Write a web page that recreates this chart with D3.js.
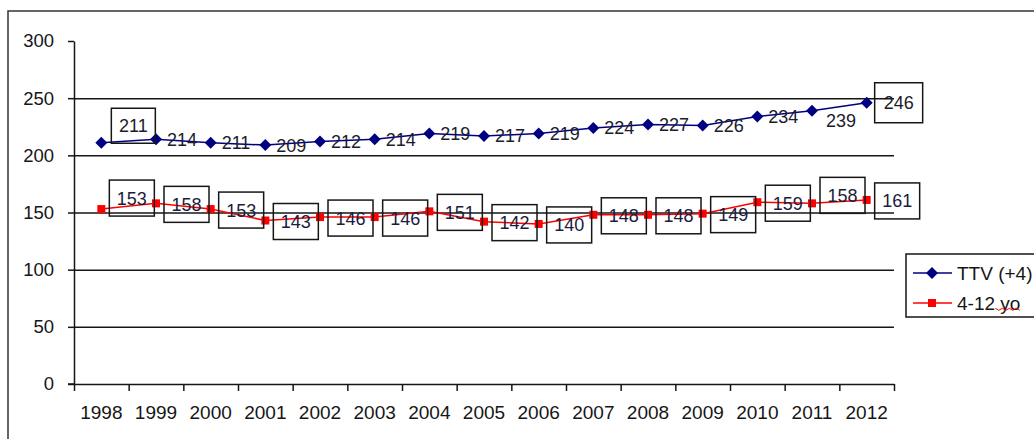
<!DOCTYPE html>
<html>
<head>
<meta charset="utf-8">
<script src="https://cdn.jsdelivr.net/npm/d3@7"></script>
<style>
    html, body { margin: 0; padding: 0; background: #fff; }
    svg { display: block; font-family: "Liberation Sans", Arial, sans-serif; }
</style>
</head>
<body>
<svg id="chart" width="1034" height="439"></svg>
<script>
const years = ["1998", "1999", "2000", "2001", "2002", "2003", "2004", "2005",
               "2006", "2007", "2008", "2009", "2010", "2011", "2012"];
const ttv = [211, 214, 211, 209, 212, 214, 219, 217, 219, 224, 227, 226, 234, 239, 246];
const kids = [153, 158, 153, 143, 146, 146, 151, 142, 140, 148, 148, 149, 159, 158, 161];
const yTicks = [0, 50, 100, 150, 200, 250, 300];
const seriesNames = ["TTV (+4)", "4-12 yo"];

const svg = d3.select("#chart");
const plotL = 74, plotR = 894, plotT = 41, plotB = 384;
const blue = "#000080", red = "#ff0000", ink = "#161616";
const fontFam = "Liberation Sans, Arial, sans-serif";

const x = d3.scaleBand().domain(years).range([plotL, plotR]);
const xEdge = d3.scaleLinear().domain([0, years.length]).range([plotL, plotR]);
const y = d3.scaleLinear().domain([0, 300]).range([plotB, plotT]);
const px = (d, i) => x(years[i]) + x.bandwidth() / 2;

// --- outer frame ---
svg.append("rect")
    .attr("x", 8).attr("y", 11)
    .attr("width", 1100).attr("height", 500)
    .attr("fill", "none")
    .attr("stroke", "#333")
    .attr("stroke-width", 1.5);

// --- gridlines ---
svg.append("g")
    .attr("transform", `translate(${plotL},0)`)
    .call(d3.axisLeft(y).tickValues(yTicks.filter(v => v > 0 && v < 300))
        .tickSize(-(plotR - plotL)).tickFormat(""))
    .call(g => g.select(".domain").remove())
    .call(g => g.selectAll("line").attr("stroke", ink).attr("stroke-width", 1.5));

// --- y axis ---
svg.append("g")
    .attr("transform", `translate(${plotL},0)`)
    .call(d3.axisLeft(y).tickValues(yTicks).tickSize(6).tickSizeOuter(0).tickPadding(14))
    .call(g => g.select(".domain").attr("stroke", ink).attr("stroke-width", 1.5))
    .call(g => g.selectAll("line").attr("stroke", ink).attr("stroke-width", 1.5))
    .call(g => g.selectAll("text").attr("fill", ink).attr("font-size", 18.5)
        .attr("font-family", fontFam));

// --- x axis ---
svg.append("g")
    .attr("transform", `translate(0,${plotB})`)
    .call(d3.axisBottom(xEdge).ticks(years.length).tickSize(7).tickSizeOuter(0).tickFormat(""))
    .call(g => g.select(".domain").attr("stroke", ink).attr("stroke-width", 1.5))
    .call(g => g.selectAll("line").attr("stroke", ink).attr("stroke-width", 1.5));
svg.append("line")
    .attr("x1", plotL - 6).attr("x2", plotL)
    .attr("y1", plotB).attr("y2", plotB)
    .attr("stroke", ink).attr("stroke-width", 1.5);

svg.append("g")
    .attr("transform", `translate(0,${plotB})`)
    .call(d3.axisBottom(x).tickSize(0).tickPadding(22))
    .call(g => g.select(".domain").remove())
    .call(g => g.selectAll("text").attr("fill", ink).attr("font-size", 19)
        .attr("font-family", fontFam));

// --- lines ---
const line = d3.line().x(px).y(d => y(d));

svg.append("path").datum(kids)
    .attr("fill", "none").attr("stroke", red).attr("stroke-width", 1.5)
    .attr("d", line);
svg.append("path").datum(ttv)
    .attr("fill", "none").attr("stroke", blue).attr("stroke-width", 1.5)
    .attr("d", line);

// --- markers ---
const diamond = d3.symbol().type(d3.symbolSquare).size(72);
const square = d3.symbol().type(d3.symbolSquare).size(64);

svg.append("g").selectAll("path").data(ttv).join("path")
    .attr("d", diamond)
    .attr("transform", (d, i) => `translate(${px(d, i)},${y(d)}) rotate(45)`)
    .attr("fill", blue);

svg.append("g").selectAll("path").data(kids).join("path")
    .attr("d", square)
    .attr("transform", (d, i) => `translate(${px(d, i)},${y(d)})`)
    .attr("fill", red);

// --- data labels ---
// boxed labels for the red series; blue labels mostly plain text
const boxW = 45, boxH = 36;
const kidsShift = { 0: -11, 13: -8 };

const kidLabels = svg.append("g").selectAll("g").data(kids).join("g")
    .attr("transform", (d, i) =>
        `translate(${px(d, i) + 8 + boxW / 2},${y(d) + (kidsShift[i] || 1)})`);
kidLabels.append("rect")
    .attr("x", -boxW / 2).attr("y", -boxH / 2)
    .attr("width", boxW).attr("height", boxH)
    .attr("fill", "none").attr("stroke", ink).attr("stroke-width", 1.5);
kidLabels.append("text")
    .attr("text-anchor", "middle").attr("dy", "0.36em")
    .attr("font-size", 18).attr("fill", "#1c1c3c")
    .text(d => d);

const ttvBoxed = { 0: { dx: 10, dy: -17, w: 44, h: 35 }, 14: { dx: 8, dy: 0, w: 48, h: 40 } };

const ttvLabels = svg.append("g").selectAll("g").data(ttv).join("g")
    .attr("transform", (d, i) => {
        const b = ttvBoxed[i];
        if (b) return `translate(${px(d, i) + b.dx + b.w / 2},${y(d) + b.dy})`;
        if (i === 13) return `translate(${px(d, i) + 14},${y(d) + 10})`;
        return `translate(${px(d, i) + 11},${y(d)})`;
    });
ttvLabels.each(function (d, i) {
    const b = ttvBoxed[i];
    if (!b) return;
    d3.select(this).append("rect")
        .attr("x", -b.w / 2).attr("y", -b.h / 2)
        .attr("width", b.w).attr("height", b.h)
        .attr("fill", "none").attr("stroke", ink).attr("stroke-width", 1.5);
});
ttvLabels.append("text")
    .attr("text-anchor", (d, i) => ttvBoxed[i] ? "middle" : "start")
    .attr("dy", "0.36em")
    .attr("font-size", 18).attr("fill", "#1c1c2c")
    .text(d => d);

// --- legend ---
const legend = svg.append("g").attr("transform", "translate(906,254)");
legend.append("rect")
    .attr("width", 200).attr("height", 63)
    .attr("fill", "#fff").attr("stroke", ink).attr("stroke-width", 1.5);

const items = legend.selectAll("g.item").data(seriesNames).join("g")
    .attr("class", "item")
    .attr("transform", (d, i) => `translate(0,${19 + i * 30})`);
items.append("line")
    .attr("x1", 7).attr("x2", 46)
    .attr("stroke", (d, i) => i === 0 ? blue : red).attr("stroke-width", 1.5);
items.append("path")
    .attr("d", (d, i) => i === 0 ? diamond() : square())
    .attr("transform", (d, i) => i === 0 ? "translate(26,0) rotate(45)" : "translate(26,0)")
    .attr("fill", (d, i) => i === 0 ? blue : red);
items.append("text")
    .attr("x", 51).attr("dy", "0.36em")
    .attr("font-size", 19).attr("fill", ink)
    .text(d => d);

// spell-check squiggle under "yo", as in the source document
const yo = items.filter((d, i) => i === 1).select("text").node().getBBox();
const wave = d3.range(0, 8).map(k => [yo.x + yo.width - 25 + k * 3.5, yo.y + yo.height - 5 + (k % 2 ? 1.5 : -0.5)]);
legend.append("path")
    .attr("transform", "translate(0,49)")
    .attr("d", d3.line()(wave))
    .attr("fill", "none").attr("stroke", red).attr("stroke-width", 1);
</script>
</body>
</html>
